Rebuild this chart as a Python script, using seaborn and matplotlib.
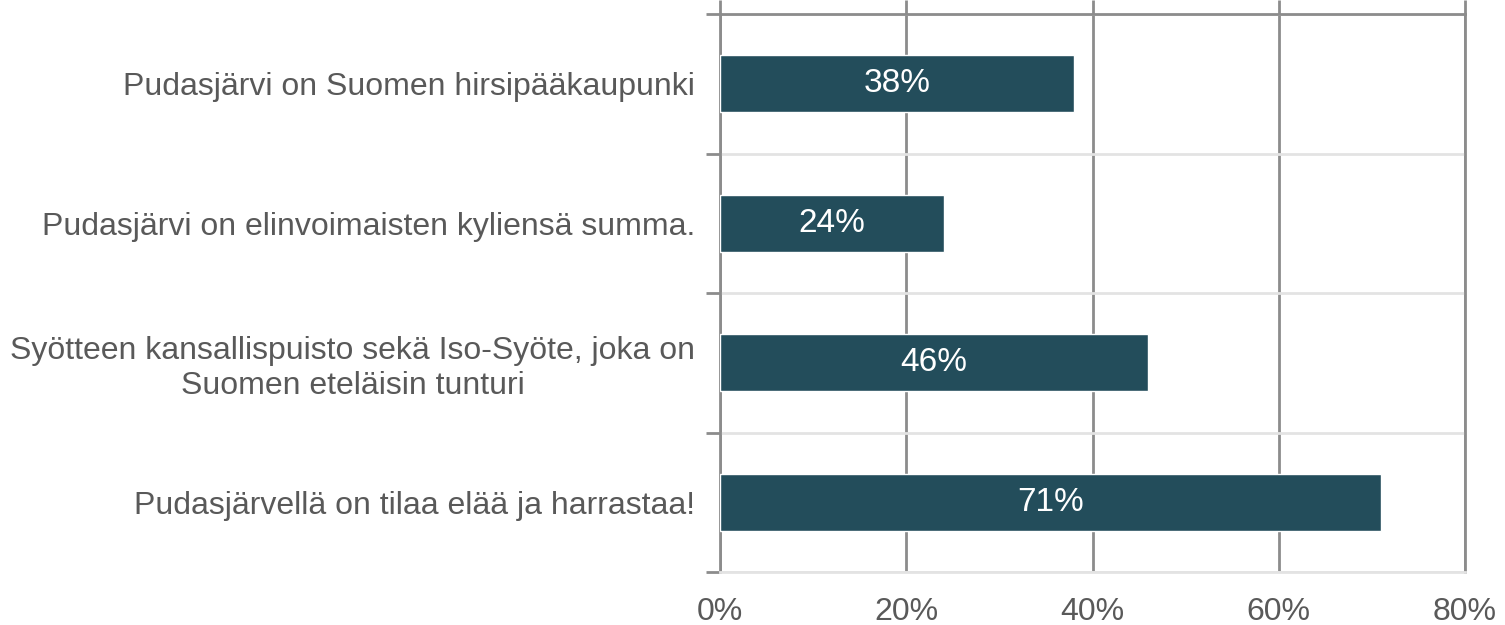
# Vaakapylväskaavio: Pudasjärven mielikuvat

import pandas as pd
import matplotlib
matplotlib.use('Agg')
import matplotlib.pyplot as plt
import seaborn as sns

# Data
categories = [
    'Pudasjärvi on Suomen hirsipääkaupunki',
    'Pudasjärvi on elinvoimaisten kyliensä summa.',
    'Syötteen kansallispuisto sekä Iso-Syöte, joka on\nSuomen eteläisin tunturi',
    'Pudasjärvellä on tilaa elää ja harrastaa!',
]
values = [38, 24, 46, 71]
x_ticks = [0, 20, 40, 60, 80]
x_tick_labels = ['0%', '20%', '40%', '60%', '80%']

df = pd.DataFrame({'kategoria': categories, 'osuus': values})

sns.set_theme(style='white')
plt.rcParams['font.family'] = ['Liberation Sans', 'DejaVu Sans']

dark = '#8c8c8c'
light = '#e3e3e3'
text_col = '#595959'
fs = 23

fig, ax = plt.subplots(figsize=(15.05, 6.25), dpi=100)
fig.subplots_adjust(left=720 / 1505, right=1465 / 1505, top=1 - 14 / 625, bottom=1 - 572 / 625)

sns.barplot(data=df, y='kategoria', x='osuus', color='#234d5b', saturation=1,
            width=0.41, ax=ax, zorder=3)

ax.set_xlim(0, 80)
ax.set_ylim(3.5, -0.5)
ax.set_xticks(x_ticks)
ax.set_xticklabels(x_tick_labels)
ax.set_xlabel('')
ax.set_ylabel('')

# Ruudukko
ax.set_axisbelow(True)
ax.grid(axis='x', which='major', color=dark, lw=2, zorder=1)
ax.set_yticks([-0.5, 0.5, 1.5, 2.5, 3.5], minor=True)
ax.grid(axis='y', which='minor', color=light, lw=2, zorder=0)
ax.grid(axis='y', which='major', visible=False)

# Akselit
for side in ['top', 'left', 'right']:
    ax.spines[side].set_color(dark)
    ax.spines[side].set_linewidth(2)
ax.spines['bottom'].set_color(light)
ax.spines['bottom'].set_linewidth(2)

ax.tick_params(axis='x', which='major', top=True, bottom=False, labelbottom=True,
               length=10, width=2, color=dark, labelsize=fs, labelcolor=text_col, pad=8)
ax.tick_params(axis='y', which='major', left=False, length=0, labelsize=fs,
               labelcolor=text_col, pad=18)
ax.tick_params(axis='y', which='minor', left=True, length=10, width=2, color=dark)

for lbl in ax.get_yticklabels():
    lbl.set_multialignment('center')
    lbl.set_linespacing(1.2)

# Arvot pylväiden sisään
for cont in ax.containers:
    ax.bar_label(cont, labels=[f'{v}%' for v in values], label_type='center',
                 color='white', fontsize=24)

plt.savefig('out.png', dpi=100)
